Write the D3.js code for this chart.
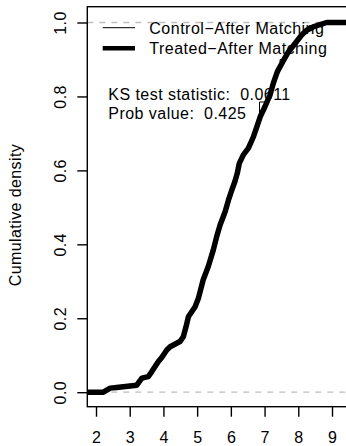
<!DOCTYPE html>
<html>
<head>
<meta charset="utf-8">
<script src="https://cdn.jsdelivr.net/npm/d3@7"></script>
<style>
  html, body { margin: 0; padding: 0; background: #fff; }
  svg { display: block; font-family: "Liberation Sans", Arial, Helvetica, sans-serif; }
  text { white-space: pre; }
</style>
</head>
<body>
<svg id="chart" width="346" height="446"></svg>
<script>
// Empirical CDF breakpoints, [value, cumulative density]
const treatedECDF = [
  [1.70, 0.000], [2.22, 0.000], [2.42, 0.011], [2.61, 0.013], [3.01, 0.017],
  [3.21, 0.019], [3.36, 0.038], [3.55, 0.042], [3.65, 0.055], [3.85, 0.083],
  [3.95, 0.094], [4.10, 0.114], [4.20, 0.123], [4.49, 0.137], [4.59, 0.150],
  [4.67, 0.177], [4.74, 0.204], [4.94, 0.231], [5.04, 0.255], [5.18, 0.304],
  [5.33, 0.340], [5.48, 0.385], [5.58, 0.421], [5.68, 0.452], [5.83, 0.488],
  [5.93, 0.520], [6.03, 0.547], [6.12, 0.570], [6.19, 0.592], [6.25, 0.619],
  [6.37, 0.642], [6.52, 0.660], [6.67, 0.691], [6.77, 0.718], [6.87, 0.745],
  [7.01, 0.772], [7.16, 0.804], [7.26, 0.836], [7.38, 0.867], [7.54, 0.894],
  [7.71, 0.921], [7.91, 0.944], [8.10, 0.966], [8.25, 0.979], [8.44, 0.988],
  [8.84, 1.000], [10.5, 1.000]
];
const controlECDF = [
  [1.70, 0.000], [2.22, 0.000], [2.42, 0.011], [2.61, 0.013], [3.01, 0.017],
  [3.21, 0.019], [3.36, 0.038], [3.55, 0.042], [3.65, 0.055], [3.85, 0.083],
  [3.95, 0.094], [4.10, 0.114], [4.20, 0.123], [4.49, 0.137], [4.59, 0.150],
  [4.67, 0.177], [4.74, 0.204], [4.94, 0.231], [5.04, 0.255], [5.18, 0.304],
  [5.33, 0.340], [5.48, 0.385], [5.58, 0.421], [5.68, 0.452], [5.83, 0.488],
  [5.93, 0.520], [6.03, 0.547], [6.12, 0.570], [6.19, 0.592], [6.25, 0.619],
  [6.37, 0.642], [6.52, 0.660], [6.67, 0.691], [6.77, 0.718], [6.85, 0.743],
  [6.85, 0.785], [7.05, 0.785], [7.16, 0.804], [7.26, 0.836], [7.38, 0.867],
  [7.46, 0.880], [7.46, 0.900], [7.61, 0.900], [7.71, 0.921], [7.91, 0.944],
  [8.10, 0.966], [8.25, 0.979], [8.50, 0.985], [8.55, 0.998], [8.84, 1.000],
  [10.5, 1.000]
];
const xTicks = [2, 3, 4, 5, 6, 7, 8, 9];
const yTicks = [0, 0.2, 0.4, 0.6, 0.8, 1.0];
const legendLabels = ["Control\u2212After Matching", "Treated\u2212After Matching"];
const ksLines = ["KS test statistic:  0.0611", "Prob value:  0.425"];
const yTitle = "Cumulative density";

const svg = d3.select("#chart");
const FS = 16;

// Plot region (right side runs past the visible canvas)
const box = { left: 87.3, top: 6.7, right: 420, bottom: 406.7 };

const x = d3.scaleLinear().domain([2, 9]).range([96, 332]);
const y = d3.scaleLinear().domain([0, 1]).range([392.2, 22.5]);

svg.append("clipPath").attr("id", "plotclip")
  .append("rect")
  .attr("x", box.left).attr("y", box.top)
  .attr("width", box.right - box.left).attr("height", box.bottom - box.top);

const plot = svg.append("g").attr("clip-path", "url(#plotclip)");

// Reference lines at 0 and 1
plot.selectAll("line.ref").data([0, 1]).join("line")
  .attr("class", "ref")
  .attr("x1", box.left).attr("x2", box.right)
  .attr("y1", d => y(d)).attr("y2", d => y(d))
  .attr("stroke", "#bebebe").attr("stroke-width", 1.3)
  .attr("stroke-dasharray", "6,6");

const line = d3.line().x(d => x(d[0])).y(d => y(d[1])).curve(d3.curveLinear);

plot.append("path").datum(treatedECDF)
  .attr("d", line).attr("fill", "none")
  .attr("stroke", "#000").attr("stroke-width", 5.5)
  .attr("stroke-linejoin", "round").attr("stroke-linecap", "round");

plot.append("path").datum(controlECDF)
  .attr("d", line).attr("fill", "none")
  .attr("stroke", "#000").attr("stroke-width", 1);

// Frame
svg.append("rect")
  .attr("x", box.left).attr("y", box.top)
  .attr("width", box.right - box.left).attr("height", box.bottom - box.top)
  .attr("fill", "none").attr("stroke", "#000").attr("stroke-width", 1.4);

// X axis
const xAxis = d3.axisBottom(x).tickValues(xTicks).tickSize(10)
  .tickFormat(d3.format("d"));
const gx = svg.append("g").attr("transform", `translate(0,${box.bottom})`).call(xAxis);
gx.select(".domain").remove();
gx.selectAll(".tick line").attr("stroke", "#000").attr("stroke-width", 1.4);
gx.selectAll(".tick text").attr("font-size", FS).attr("fill", "#000")
  .attr("font-family", "Liberation Sans, Arial, sans-serif")
  .attr("y", 36.3).attr("dy", null);

// Y axis
const yAxis = d3.axisLeft(y).tickValues(yTicks).tickSize(10).tickFormat(d3.format(".1f"));
const gy = svg.append("g").attr("transform", `translate(${box.left},0)`).call(yAxis);
gy.select(".domain").remove();
gy.selectAll(".tick line").attr("stroke", "#000").attr("stroke-width", 1.4);
gy.selectAll(".tick text")
  .attr("font-size", FS).attr("fill", "#000")
  .attr("font-family", "Liberation Sans, Arial, sans-serif")
  .attr("letter-spacing", 0.4)
  .attr("x", null).attr("dy", null)
  .attr("text-anchor", "middle")
  .attr("transform", "translate(-21.3,0) rotate(-90)");

// Y title
svg.append("text")
  .attr("transform", "translate(21,215) rotate(-90)")
  .attr("text-anchor", "middle").attr("font-size", FS).attr("fill", "#000")
  .attr("letter-spacing", 0.4)
  .text(yTitle);

// Legend
const legendRowsY = [27.7, 48.3];
const lg = svg.append("g");
legendLabels.forEach((lab, i) => {
  lg.append("line")
    .attr("x1", 102.7).attr("x2", 135)
    .attr("y1", legendRowsY[i]).attr("y2", legendRowsY[i])
    .attr("stroke", "#000").attr("stroke-width", i === 0 ? 1 : 4.5);
  lg.append("text")
    .attr("x", 149.3).attr("y", legendRowsY[i] + 6)
    .attr("font-size", FS).attr("letter-spacing", 0.5)
    .attr("fill", "#000").text(lab);
});

// KS test annotation
ksLines.forEach((t, i) => {
  svg.append("text")
    .attr("x", 108.3).attr("y", 100 + i * 19)
    .attr("font-size", FS).attr("letter-spacing", 0.46)
    .attr("fill", "#000").text(t);
});
</script>
</body>
</html>
